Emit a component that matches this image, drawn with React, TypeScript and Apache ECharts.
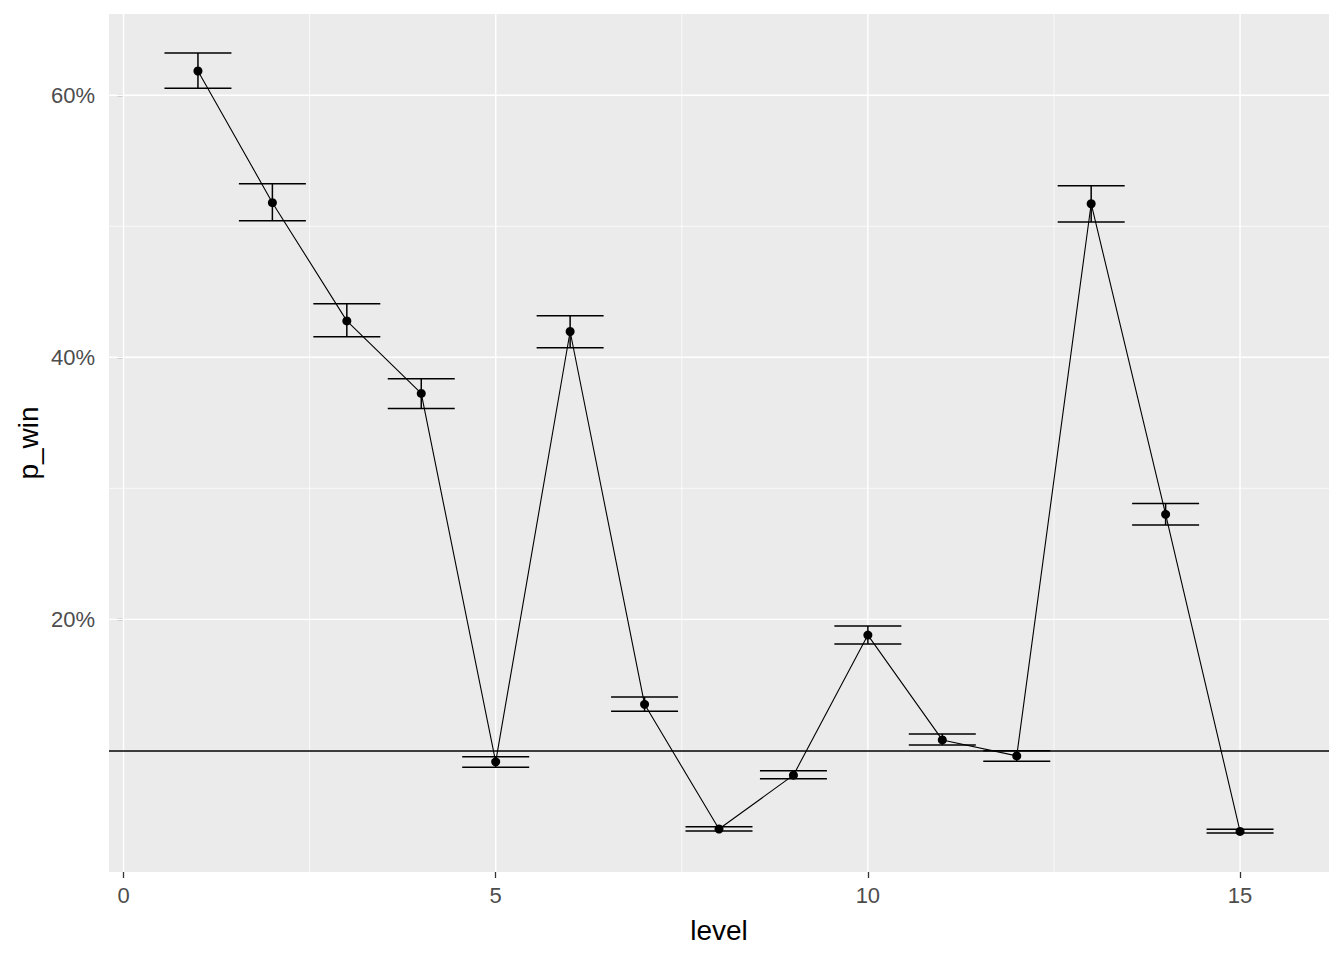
import React, { useEffect, useRef } from "react";
import * as echarts from "echarts";

const levels = [1, 2, 3, 4, 5, 6, 7, 8, 9, 10, 11, 12, 13, 14, 15];
const pWin = [61.85, 51.8, 42.78, 37.24, 9.13, 41.97, 13.52, 4.0, 8.11, 18.8, 10.8, 9.58, 51.72, 28.02, 3.82];
const ciLow = [60.53, 50.42, 41.56, 36.1, 8.72, 40.72, 12.99, 3.85, 7.83, 18.12, 10.42, 9.18, 50.32, 27.21, 3.7];
const ciHigh = [63.22, 53.24, 44.08, 38.36, 9.51, 43.18, 14.08, 4.18, 8.44, 19.49, 11.26, 9.98, 53.09, 28.84, 3.98];
const refLine = 10;
const xTicks = [0, 5, 10, 15];
const xMinor = [2.5, 7.5, 12.5];
const yTicks = [20, 40, 60];
const yMinor = [10, 30, 50];

const X_MIN = -0.195;
const X_MAX = 16.195;
const Y_MIN = 0.72;
const Y_MAX = 66.2;
const FONT = "'Liberation Sans', Arial, sans-serif";

function vGrid(values: number[], width: number, z: number) {
  return {
    type: "custom",
    z,
    silent: true,
    data: values.map((v) => [v, Y_MIN]),
    encode: { x: 0, y: 1 },
    renderItem: (params: any, api: any) => {
      const cs = params.coordSys;
      const x = api.coord([api.value(0), Y_MIN])[0];
      return {
        type: "line",
        shape: { x1: x, y1: cs.y, x2: x, y2: cs.y + cs.height },
        style: { stroke: "#FFFFFF", lineWidth: width },
      };
    },
  };
}

function hGrid(values: number[], width: number, z: number) {
  return {
    type: "custom",
    z,
    silent: true,
    data: values.map((v) => [X_MIN, v]),
    encode: { x: 0, y: 1 },
    renderItem: (params: any, api: any) => {
      const cs = params.coordSys;
      const y = api.coord([X_MIN, api.value(1)])[1];
      return {
        type: "line",
        shape: { x1: cs.x, y1: y, x2: cs.x + cs.width, y2: y },
        style: { stroke: "#FFFFFF", lineWidth: width },
      };
    },
  };
}

export default function App() {
  const ref = useRef<HTMLDivElement>(null);

  useEffect(() => {
    if (!ref.current) return;
    const chart = echarts.init(ref.current, undefined, { renderer: "svg" });
    const capHalf = 0.45;
    const option: any = {
      animation: false,
      backgroundColor: "#FFFFFF",
      grid: {
        left: 109,
        top: 14,
        width: 1220,
        height: 858,
        show: true,
        backgroundColor: "#EBEBEB",
        borderWidth: 0,
      },
      xAxis: {
        type: "value",
        min: X_MIN,
        max: X_MAX,
        axisLine: { show: false },
        axisTick: {
          show: true,
          customValues: xTicks,
          length: 6,
          lineStyle: { color: "#333333", width: 1.3 },
        },
        axisLabel: {
          customValues: xTicks,
          color: "#4D4D4D",
          fontSize: 22,
          fontFamily: FONT,
          margin: 12,
        },
        splitLine: { show: false },
      },
      yAxis: {
        type: "value",
        min: Y_MIN,
        max: Y_MAX,
        axisLine: { show: false },
        axisTick: {
          show: true,
          customValues: yTicks,
          length: 6,
          lineStyle: { color: "#333333", width: 1.3 },
        },
        axisLabel: {
          customValues: yTicks,
          color: "#4D4D4D",
          fontSize: 22,
          fontFamily: FONT,
          margin: 14,
          formatter: (v: number) => `${Math.round(v)}%`,
        },
        splitLine: { show: false },
      },
      graphic: [
        {
          type: "text",
          x: 719,
          y: 930,
          style: {
            text: "level",
            fontSize: 28,
            fontFamily: FONT,
            fill: "#000000",
            align: "center",
            verticalAlign: "middle",
          },
        },
        {
          type: "text",
          x: 28,
          y: 443,
          rotation: Math.PI / 2,
          style: {
            text: "p_win",
            fontSize: 28,
            fontFamily: FONT,
            fill: "#000000",
            align: "center",
            verticalAlign: "middle",
          },
        },
      ],
      series: [
        vGrid(xMinor, 0.7, 0),
        hGrid(yMinor, 0.7, 0),
        vGrid(xTicks, 1.4, 1),
        hGrid(yTicks, 1.4, 1),
        {
          type: "custom",
          z: 3,
          silent: true,
          data: levels.map((l, i) => [l, ciLow[i], ciHigh[i]]),
          encode: { x: 0, y: [1, 2] },
          renderItem: (_params: any, api: any) => {
            const x = api.value(0);
            const lo = api.value(1);
            const hi = api.value(2);
            const top = api.coord([x, hi]);
            const bot = api.coord([x, lo]);
            const tl = api.coord([x - capHalf, hi]);
            const tr = api.coord([x + capHalf, hi]);
            const bl = api.coord([x - capHalf, lo]);
            const br = api.coord([x + capHalf, lo]);
            const style = { stroke: "#000000", lineWidth: 1.5 };
            return {
              type: "group",
              children: [
                { type: "line", shape: { x1: top[0], y1: top[1], x2: bot[0], y2: bot[1] }, style },
                { type: "line", shape: { x1: tl[0], y1: tl[1], x2: tr[0], y2: tr[1] }, style },
                { type: "line", shape: { x1: bl[0], y1: bl[1], x2: br[0], y2: br[1] }, style },
              ],
            };
          },
        },
        {
          type: "line",
          z: 4,
          silent: true,
          data: levels.map((l, i) => [l, pWin[i]]),
          showSymbol: false,
          symbol: "none",
          lineStyle: { color: "#000000", width: 1.1 },
          itemStyle: { color: "#000000" },
          markLine: {
            silent: true,
            symbol: ["none", "none"],
            label: { show: false },
            lineStyle: { color: "#000000", width: 1.5, type: "solid" },
            data: [{ yAxis: refLine }],
          },
        },
        {
          type: "scatter",
          z: 5,
          silent: true,
          data: levels.map((l, i) => [l, pWin[i]]),
          symbolSize: 9,
          itemStyle: { color: "#000000", opacity: 1 },
        },
      ],
    };
    chart.setOption(option);
    return () => chart.dispose();
  }, []);

  return (
    <div
      ref={ref}
      style={{ position: "absolute", left: 0, top: 0, width: 1344, height: 960 }}
    />
  );
}
